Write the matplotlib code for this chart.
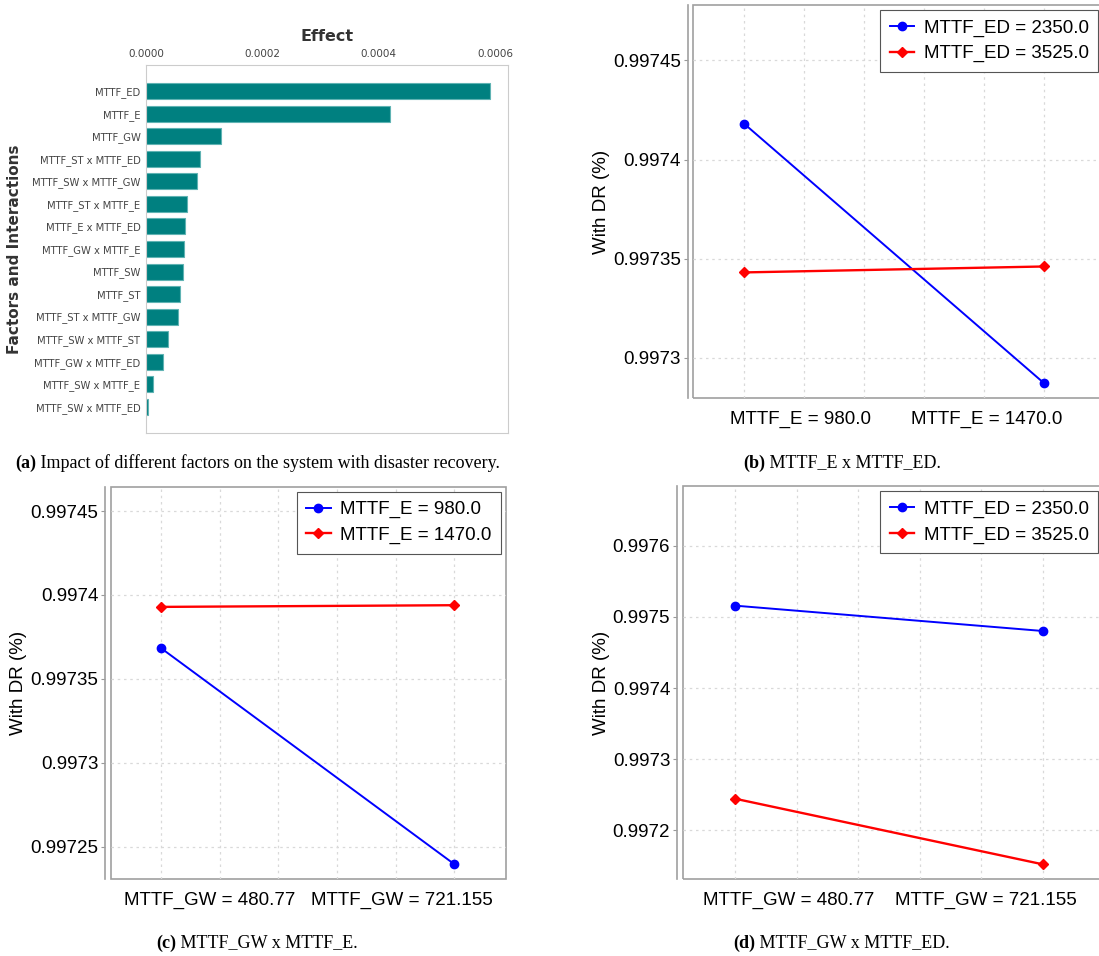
import matplotlib.pyplot as plt
from matplotlib.patches import Rectangle

# ---------------------------------------------------------------------------
# Data
# ---------------------------------------------------------------------------
factors = ['MTTF_ED', 'MTTF_E', 'MTTF_GW', 'MTTF_ST x MTTF_ED', 'MTTF_SW x MTTF_GW',
           'MTTF_ST x MTTF_E', 'MTTF_E x MTTF_ED', 'MTTF_GW x MTTF_E', 'MTTF_SW',
           'MTTF_ST', 'MTTF_ST x MTTF_GW', 'MTTF_SW x MTTF_ST', 'MTTF_GW x MTTF_ED',
           'MTTF_SW x MTTF_E', 'MTTF_SW x MTTF_ED']
effects = [0.000591, 0.000419, 0.000129, 0.0000928, 0.0000871, 0.0000710, 0.0000676,
           0.0000653, 0.0000642, 0.0000590, 0.0000556, 0.0000372, 0.0000286,
           0.0000115, 0.0000034]

# (b) MTTF_E x MTTF_ED
b_xlabels = ['MTTF_E = 980.0', 'MTTF_E = 1470.0']
b_series = ['MTTF_ED = 2350.0', 'MTTF_ED = 3525.0']
b_low = [0.997418, 0.997287]
b_high = [0.997343, 0.997346]
b_yticks = [0.9973, 0.99735, 0.9974, 0.99745]

# (c) MTTF_GW x MTTF_E
c_xlabels = ['MTTF_GW = 480.77', 'MTTF_GW = 721.155']
c_series = ['MTTF_E = 980.0', 'MTTF_E = 1470.0']
c_low = [0.9973683, 0.9972397]
c_high = [0.9973929, 0.9973939]
c_yticks = [0.99725, 0.9973, 0.99735, 0.9974, 0.99745]

# (d) MTTF_GW x MTTF_ED
d_xlabels = ['MTTF_GW = 480.77', 'MTTF_GW = 721.155']
d_series = ['MTTF_ED = 2350.0', 'MTTF_ED = 3525.0']
d_low = [0.997516, 0.9974803]
d_high = [0.9972441, 0.9971517]
d_yticks = [0.9972, 0.9973, 0.9974, 0.9975, 0.9976]

W, H = 1099, 956
fig = plt.figure(figsize=(W / 100, H / 100), dpi=100)


def px_axes(x0, y0, x1, y1):
    # axes box given in pixel coords (top-left origin)
    return fig.add_axes([x0 / W, 1 - y1 / H, (x1 - x0) / W, (y1 - y0) / H])


# ---------------------------------------------------------------------------
# (a) effects bar chart
# ---------------------------------------------------------------------------
ax = px_axes(146, 65, 508, 433)
pos = list(range(len(factors)))
ax.barh(pos, effects, height=0.71, color='#008080', edgecolor='#5fb3b3', lw=0.8)
ax.set_ylim(len(factors) - 1 + 1.17, -1.17)
ax.set_xlim(0, 0.000622)
ax.set_yticks(pos)
ax.set_yticklabels(factors, fontsize=7.2, color='#444444')
ax.set_xticks([0, 0.0002, 0.0004, 0.0006])
ax.set_xticklabels(['0.0000', '0.0002', '0.0004', '0.0006'], fontsize=7.5, color='#444444')
ax.xaxis.tick_top()
ax.xaxis.set_label_position('top')
ax.tick_params(length=0, pad=4)
ax.set_xlabel('Effect', fontsize=11.5, fontweight='bold', color='#333333', labelpad=6)
ax.set_ylabel('Factors and Interactions', fontsize=11, fontweight='bold', color='#333333',
              labelpad=7)
for s in ax.spines.values():
    s.set_color('#cccccc')
    s.set_linewidth(0.8)


# ---------------------------------------------------------------------------
# interaction plots
# ---------------------------------------------------------------------------
def interaction(box, xlim, ylim, yticks, xlabel_pos, xlabels, low, high, names):
    a = px_axes(*box)
    # offset y axis line (set before ticks, it resets them)
    for k in ['top', 'right', 'bottom']:
        a.spines[k].set_visible(False)
    a.spines['left'].set_position(('outward', 4))
    a.spines['left'].set_color('#a0a0a0')
    a.spines['left'].set_linewidth(1.2)
    a.add_patch(Rectangle((0, 0), 1, 1, transform=a.transAxes, fill=False,
                          edgecolor='#a0a0a0', lw=1.2, clip_on=False))

    xs = [0, 1]
    a.plot(xs, low, color='#0000ff', lw=1.4, marker='o', ms=6, label=names[0], zorder=3)
    a.plot(xs, high, color='#ff0000', lw=1.7, marker='D', ms=5, label=names[1], zorder=3)
    a.set_xlim(*xlim)
    a.set_ylim(*ylim)
    a.set_yticks(yticks)
    a.set_yticklabels([f'{v:g}' for v in yticks], family='Liberation Sans', fontsize=13.5)
    a.set_xticks(xlabel_pos)
    a.set_xticklabels(xlabels, family='Liberation Sans', fontsize=13.5)
    a.tick_params(axis='x', length=0, pad=9)
    a.tick_params(axis='y', length=3, color='#999999', pad=2)
    a.set_ylabel('With DR (%)', family='Liberation Sans', fontsize=13.5, labelpad=2)
    # dotted grid: vertical every 0.2 between the two levels, horizontal at ticks
    for gx in [0, 0.2, 0.4, 0.6, 0.8, 1.0]:
        a.axvline(gx, color='#d9d9d9', lw=0.9, ls=(0, (2, 3)), zorder=1)
    for gy in yticks:
        a.axhline(gy, color='#d9d9d9', lw=0.9, ls=(0, (2, 3)), zorder=1)
    leg = a.legend(loc='upper right', prop={'family': 'Liberation Sans', 'size': 13.5},
                   fancybox=False, framealpha=1, edgecolor='#555555',
                   borderaxespad=0.27, handlelength=1.3, handletextpad=0.5,
                   labelspacing=0.45, borderpad=0.5)
    leg.get_frame().set_linewidth(0.8)
    return a


interaction((693.3, 5, 1103, 398), (-0.17, 1.196), (0.9972796, 0.997478), b_yticks,
            [0.186, 0.807], b_xlabels, b_low, b_high, b_series)
interaction((110.7, 486.7, 505.7, 879), (-0.172, 1.176), (0.9972308, 0.9974645), c_yticks,
            [0.167, 0.823], c_xlabels, c_low, c_high, c_series)
interaction((682.7, 486, 1103, 879), (-0.17, 1.196), (0.997131, 0.9976845), d_yticks,
            [0.176, 0.816], d_xlabels, d_low, d_high, d_series)


# ---------------------------------------------------------------------------
# captions (bold tag + regular text, serif)
# ---------------------------------------------------------------------------
renderer = fig.canvas.get_renderer()


def caption(x, y, tag, rest, ha='center'):
    kw = dict(family='Liberation Serif', fontsize=13, va='center')
    t1 = fig.text(0, 0, tag, fontweight='bold', **kw)
    t2 = fig.text(0, 0, ' ' + rest, **kw)
    w1 = t1.get_window_extent(renderer).width
    w2 = t2.get_window_extent(renderer).width
    start = x - (w1 + w2) / 2 if ha == 'center' else x
    t1.set_position((start / W, 1 - y / H))
    t2.set_position(((start + w1) / W, 1 - y / H))


caption(15, 463, '(a)', 'Impact of different factors on the system with disaster recovery.',
        ha='left')
caption(841.7, 463, '(b)', 'MTTF_E x MTTF_ED.')
caption(256.7, 943, '(c)', 'MTTF_GW x MTTF_E.')
caption(841.7, 943, '(d)', 'MTTF_GW x MTTF_ED.')

fig.savefig('out.png', dpi=100)
